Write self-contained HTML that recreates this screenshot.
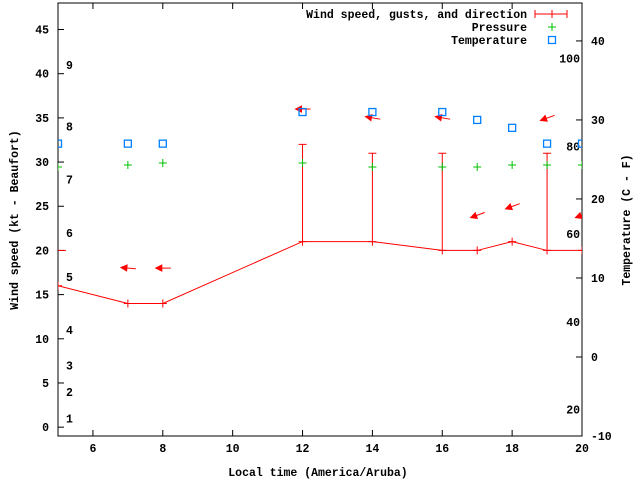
<!DOCTYPE html>
<html><head><meta charset="utf-8"><style>
body{margin:0;background:#fff}
svg text{font-family:"Liberation Mono",monospace;font-weight:bold;font-size:11.5px;fill:#000}
</style></head><body>
<svg width="640" height="480" viewBox="0 0 640 480" xmlns="http://www.w3.org/2000/svg">
<rect width="640" height="480" fill="#fff"/>
<g id="plot"></g>
</svg>
<script>
const times=[5,7,8,12,14,16,17,18,19,20];
const wind=[16,14,14,21,21,20,20,21,20,20];
const gust=[null,null,null,32,31,31,null,null,31,null];
const direction=[90,95,90,90,100,100,70,70,70,70];
const pressure=[1012,1012.5,1013,1013,1012,1012,1012,1012.5,1012.5,1012.5];
const tempC=[27,27,27,31,31,31,30,29,27,27];
const xTicks=[6,8,10,12,14,16,18,20];
const yTicks=[0,5,10,15,20,25,30,35,40,45];
const cTicks=[-10,0,10,20,30,40];
const fTicks=[20,40,60,80,100];
const beaufortKt=[1,4,7,11,17,22,28,34,41];
const beaufortLbl=["1","2","3","4","5","6","7","8","9"];

const L=58,R=582,T=3,B=436;
const X=t=>L+(t-5)*(R-L)/15;
const Y=v=>B-(v+1)*(B-T)/49;
const YC=c=>B-(c+10)*(B-T)/54.8;
const YF=f=>YC((f-32)/1.8);
const YP=p=>163+(1013-p)*4;
const NS="http://www.w3.org/2000/svg";
const g=document.getElementById('plot');
function el(tag,attrs,parent){const e=document.createElementNS(NS,tag);for(const k in attrs)e.setAttribute(k,attrs[k]);(parent||g).appendChild(e);return e;}
function txt(x,y,s,anchor,name,parent){const e=el('text',{x:x,y:y,'text-anchor':anchor||'middle'},parent);e.textContent=s;return e;}

// frame
const frame=el('rect',{x:L,y:T,width:R-L,height:B-T,fill:'none',stroke:'#000','stroke-width':1});



xTicks.forEach(t=>{
  const tk=el('path',{d:`M${X(t)} ${B}v-6M${X(t)} ${T}v6`,stroke:'#000'});
  
  
  txt(X(t),B+16,String(t),'middle','x-tick-label');
});
yTicks.forEach(v=>{
  const tk=el('path',{d:`M${L} ${Y(v)}h6`,stroke:'#000'});
  
  
  txt(L-9,Y(v)+4,String(v),'end','y-tick-label');
});
cTicks.forEach(c=>{
  const tk=el('path',{d:`M${R} ${YC(c)}h-6`,stroke:'#000'});
  
  
  txt(R+9,YC(c)+4,String(c),'start','y2-tick-label-celsius');
});
fTicks.forEach(f=>{txt(R-2,YF(f)+4,String(f),'end','fahrenheit-label');});
beaufortKt.forEach((k,i)=>{txt(L+8,Y(k)+4,beaufortLbl[i],'start','beaufort-label');});

// axis titles
const yt=txt(0,0,'Wind speed (kt - Beaufort)','middle','y-axis-title');yt.setAttribute('transform','translate(18,220) rotate(-90)');
const y2t=txt(0,0,'Temperature (C - F)','middle','y2-axis-title');y2t.setAttribute('transform','translate(630,220) rotate(-90)');
txt(318,476,'Local time (America/Aruba)','middle','x-axis-title');

// clip
const defs=el('defs',{});const cp=el('clipPath',{id:'cp'},defs);el('rect',{x:L,y:T,width:R-L,height:B-T},cp);
const data=el('g',{'clip-path':'url(#cp)'});



// wind line
const wl=el('polyline',{points:times.map((t,i)=>X(t)+','+Y(wind[i])).join(' '),fill:'none',stroke:'#f00'},data);


times.forEach((t,i)=>{
  const x=X(t),y=Y(wind[i]);
  let d=`M${x-4} ${y}h8M${x} ${y-4}v8`;
  if(gust[i]!=null){const yg=Y(gust[i]);d+=`M${x} ${y}V${yg}M${x-4} ${yg}h8`;}
  const p=el('path',{d:d,stroke:'#f00',fill:'none'},data);
  
  
});
// arrows
times.forEach((t,i)=>{
  const top=(gust[i]!=null?gust[i]:wind[i])+4;
  const cx=X(t)+0.5,cy=Y(top);
  const a=(direction[i]-90)*Math.PI/180; // 90 = pointing left
  const ux=-Math.cos(a),uy=-Math.sin(a); // direction toward tip
  const tipx=cx+ux*7.5,tipy=cy+uy*7.5,tx=cx-ux*7.5,ty=cy-uy*7.5;
  const bx=tipx-ux*6,by=tipy-uy*6,px=-uy,py=ux;
  const ar=el('g',{},data);
  
  
  el('path',{d:`M${tx} ${ty}L${tipx} ${tipy}`,stroke:'#f00'},ar);
  el('path',{d:`M${tipx} ${tipy}L${bx+px*3} ${by+py*3}L${bx-px*3} ${by-py*3}Z`,fill:'#f00',stroke:'#f00'},ar);
});
// pressure
times.forEach((t,i)=>{
  const x=X(t),y=YP(pressure[i]);
  const p=el('path',{d:`M${x-4} ${y}h8M${x} ${y-4}v8`,stroke:'#00c000'},data);
  
  
});
// temperature
times.forEach((t,i)=>{
  const x=X(t),y=YC(tempC[i]);
  const r=el('rect',{x:x-3.5,y:y-3.5,width:7,height:7,fill:'none',stroke:'#0080ff','stroke-width':1.3},data);
  
  
});

// legend
const lg=el('g',{});


txt(527,18,'Wind speed, gusts, and direction','end','legend-label-wind',lg);
txt(527,31,'Pressure','end','legend-label-pressure',lg);
txt(527,44,'Temperature','end','legend-label-temperature',lg);
const l1=el('path',{d:'M535 14h32M535 10v8M567 10v8M552 10v8',stroke:'#f00'},lg);


const l2=el('path',{d:'M548 27h8M552 23v8',stroke:'#00c000'},lg);


const l3=el('rect',{x:548.5,y:36.5,width:7,height:7,fill:'none',stroke:'#0080ff','stroke-width':1.3},lg);


</script>
</body></html>
